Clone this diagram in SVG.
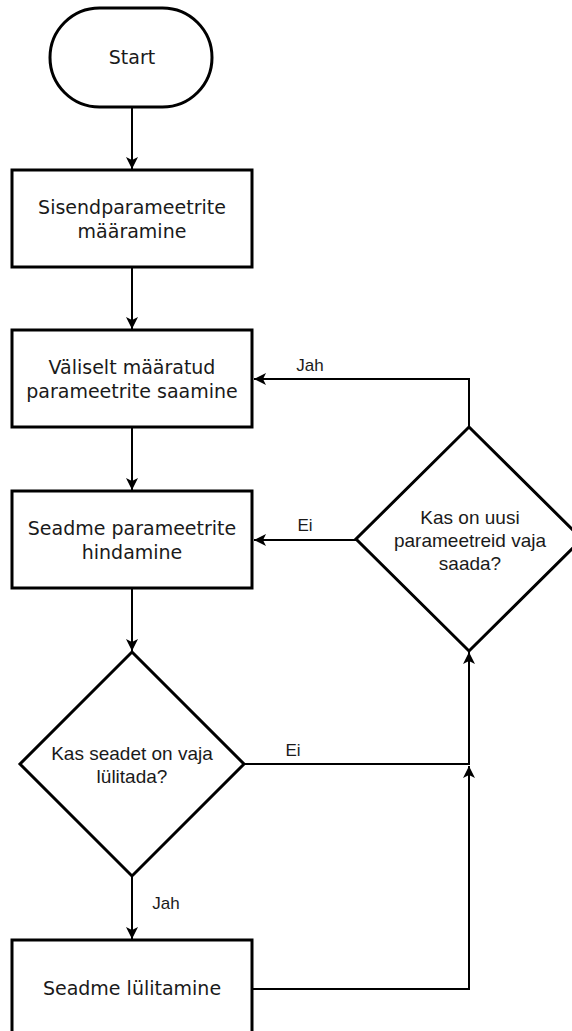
<svg xmlns="http://www.w3.org/2000/svg" width="572" height="1031" viewBox="0 0 572 1031">
  <style>
    .shape { fill: #ffffff; stroke: #000000; stroke-width: 3; }
    .box-text { font-family: "DejaVu Sans", Verdana, sans-serif; font-size: 19px; fill: #1a1a1a; text-anchor: middle; dominant-baseline: central; }
    .dec-text { font-family: "Liberation Sans", Arial, sans-serif; font-size: 19px; fill: #1a1a1a; text-anchor: middle; dominant-baseline: central; }
    .label { font-family: "Liberation Sans", Arial, sans-serif; font-size: 17px; fill: #1a1a1a; text-anchor: middle; dominant-baseline: central; }
    .edge { fill: none; stroke: #000000; stroke-width: 2; }
  </style>
  <defs>
    <marker id="arrow" markerUnits="userSpaceOnUse" markerWidth="12" markerHeight="12" viewBox="0 0 12 12" refX="12" refY="6" orient="auto">
      <path d="M0,0 L12,6 L0,12 L3,6 Z" fill="#000000"/>
    </marker>
  </defs>
  <rect width="572" height="1031" fill="#ffffff"/>

  <!-- connectors -->
  <g id="connectors">
    <path class="edge" d="M132,107 L132,169" marker-end="url(#arrow)"/>
    <path class="edge" d="M132,267 L132,329" marker-end="url(#arrow)"/>
    <path class="edge" d="M132,427 L132,490" marker-end="url(#arrow)"/>
    <path class="edge" d="M132,588 L132,651" marker-end="url(#arrow)"/>
    <path class="edge" d="M132,876 L132,939" marker-end="url(#arrow)"/>
    <path class="edge" d="M469,427 L469,379 L254,379" marker-end="url(#arrow)"/>
    <path class="edge" d="M356,540 L254,540" marker-end="url(#arrow)"/>
    <path class="edge" d="M244,764 L469,764 L469,652" marker-end="url(#arrow)"/>
    <path class="edge" d="M253,989 L469,989 L469,766" marker-end="url(#arrow)"/>
    <text class="label" x="310" y="365">Jah</text>
    <text class="label" x="305" y="525">Ei</text>
    <text class="label" x="293" y="750">Ei</text>
    <text class="label" x="166" y="903">Jah</text>
  </g>

  <!-- nodes -->
  <g id="start">
    <rect class="shape" x="50" y="8" width="162" height="99" rx="49.5" ry="49.5"/>
    <text class="box-text" x="132" y="57">Start</text>
  </g>
  <g id="input-params">
    <rect class="shape" x="12" y="170" width="240" height="97"/>
    <text class="box-text" x="132" y="207">Sisendparameetrite</text>
    <text class="box-text" x="132" y="231">määramine</text>
  </g>
  <g id="external-params">
    <rect class="shape" x="12" y="330" width="240" height="97"/>
    <text class="box-text" x="132" y="367">Väliselt määratud</text>
    <text class="box-text" x="132" y="391">parameetrite saamine</text>
  </g>
  <g id="evaluate-params">
    <rect class="shape" x="12" y="491" width="240" height="97"/>
    <text class="box-text" x="132" y="528">Seadme parameetrite</text>
    <text class="box-text" x="132" y="552">hindamine</text>
  </g>
  <g id="decision-switch">
    <polygon class="shape" points="132,652 244,764 132,876 20,764"/>
    <text class="dec-text" x="132" y="753">Kas seadet on vaja</text>
    <text class="dec-text" x="132" y="776">lülitada?</text>
  </g>
  <g id="decision-new-params">
    <polygon class="shape" points="469,427 582,539 469,651 356,539"/>
    <text class="dec-text" x="470" y="517">Kas on uusi</text>
    <text class="dec-text" x="470" y="540">parameetreid vaja</text>
    <text class="dec-text" x="470" y="563">saada?</text>
  </g>
  <g id="switch-device">
    <rect class="shape" x="12" y="940" width="240" height="100"/>
    <text class="box-text" x="132" y="988">Seadme lülitamine</text>
  </g>
</svg>
